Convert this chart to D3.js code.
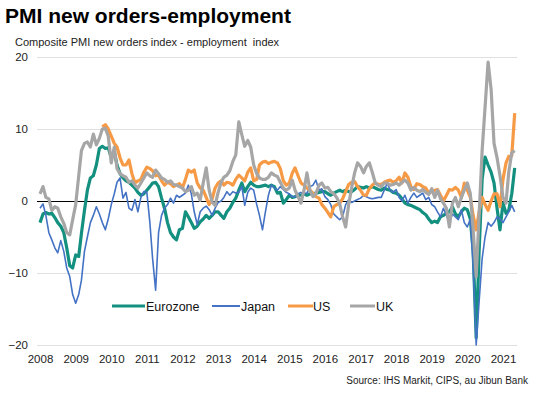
<!DOCTYPE html>
<html><head><meta charset="utf-8">
<script src="https://cdn.jsdelivr.net/npm/d3@7"></script>
<style>
html,body{margin:0;padding:0;background:#fff;}
svg{display:block;font-family:"Liberation Sans",Arial,sans-serif;}
</style></head>
<body><svg id="c" width="541" height="398"></svg>
<script>
// ---- data (monthly, from Jan 2008) ----
const startEuro = "2008-01", startJapan = "2008-01", startUK = "2008-01", startUS = "2009-10";
const eurozone = [
-3.0,-1.8,-1.6,-1.8,-1.7,-2.3,-3.0,-3.5,-4.4,-6.5,
-9.0,-9.3,-7.5,-7.7,-4.5,-1.3,1.5,3.2,3.5,5.0,
7.3,7.6,7.3,7.4,6.0,6.8,5.0,3.8,3.2,2.8,
2.6,2.2,1.8,1.2,0.8,1.0,1.5,2.0,2.5,2.6,
2.0,0.4,-1.0,-3.0,-4.4,-5.0,-5.4,-4.0,-3.8,-1.5,
-2.2,-3.0,-3.8,-3.5,-2.9,-2.5,-2.0,-2.4,-2.0,-1.5,
-1.5,-2.0,-2.4,-1.5,-1.0,-0.2,0.4,1.5,2.5,1.3,
2.0,2.6,2.2,2.0,2.0,2.1,2.2,2.0,2.2,2.0,
1.1,1.2,-0.3,0.2,0.8,0.5,0.6,0.8,0.8,1.0,
0.8,1.0,1.0,1.1,1.2,1.3,1.3,1.0,0.8,1.1,
1.3,1.5,1.3,1.5,1.3,1.3,1.6,2.0,1.9,1.8,
2.0,1.8,2.0,1.8,1.6,1.5,1.8,1.6,1.5,1.2,
1.1,0.8,0.3,-0.3,-0.5,-0.6,-0.8,-1.0,-1.2,-1.6,
-1.9,-2.5,-3.0,-2.8,-3.0,-2.2,-2.0,-1.7,-1.5,-0.8,
-1.8,-2.2,-1.5,-1.0,-1.2,-2.5,-7.0,-19.0,-7.0,3.0,
6.1,5.0,4.0,2.5,-1.0,-4.0,-0.3,-1.7,-1.3,1.0,4.6];
const japan = [
-1.0,-0.4,-2.0,-4.4,-5.4,-6.5,-7.2,-5.5,-7.0,-9.3,
-10.5,-13.0,-14.2,-13.0,-11.0,-7.0,-5.0,-3.0,-2.0,-0.8,
-1.8,-3.0,-4.0,-2.5,-0.5,1.0,2.6,3.2,0.4,1.2,
-1.0,-1.3,0.2,-1.5,0.5,1.3,1.2,-3.0,-8.0,-12.4,
-4.4,-2.0,-1.0,-0.5,0.4,-0.3,0.8,0.5,0.8,1.1,
2.2,1.0,-1.5,-3.3,-1.5,-1.0,-0.7,-1.2,-2.0,-1.0,
-0.2,0.0,0.5,1.3,0.8,1.3,1.1,1.2,2.0,-0.6,
1.2,1.8,1.5,-0.5,-2.0,-4.0,-1.5,0.8,2.2,1.8,
1.5,2.0,1.6,1.2,1.0,0.6,0.6,1.0,1.2,1.0,
1.1,2.0,2.2,2.9,1.5,1.7,0.6,0.2,-0.5,-1.8,
-2.2,-2.6,-2.2,-0.5,0.2,-0.2,0.0,0.2,0.4,0.8,
0.6,0.4,0.3,0.4,0.5,0.5,1.5,2.5,1.5,1.2,
1.6,0.5,0.0,0.8,-0.3,0.5,1.1,0.5,0.8,1.1,
0.2,0.5,-0.5,-0.8,-1.5,-2.2,-1.0,-2.0,-3.0,-1.8,
-2.2,-2.6,-1.2,-3.0,-3.6,-2.5,-9.0,-20.0,-14.0,-8.0,
-5.0,-3.0,-3.5,-3.0,-2.2,-2.5,-3.0,-2.2,-1.5,-0.6,-1.5];
const us = [
10.3,10.6,10.0,9.0,8.0,7.5,6.0,5.0,5.0,
5.7,3.8,2.5,2.8,3.0,4.0,4.7,4.5,4.2,3.5,
3.6,2.8,2.2,2.6,2.4,2.0,2.2,2.4,1.8,3.0,
4.3,4.0,4.3,2.5,1.8,1.5,0.5,-0.5,0.3,1.8,
2.5,2.8,2.2,2.6,2.5,2.2,3.0,3.6,3.2,2.8,
4.0,4.6,2.8,3.0,5.0,5.4,5.5,5.2,5.4,5.5,
5.3,4.5,2.8,2.2,2.5,3.9,4.6,3.5,2.5,2.2,
1.8,1.5,1.1,0.6,0.4,-0.5,-1.0,-1.6,-2.2,-0.8,
-0.5,-0.3,0.3,1.3,2.3,2.6,2.7,2.0,1.5,0.8,
0.8,1.7,2.2,2.5,2.3,2.3,2.6,2.8,2.9,2.6,
2.8,3.3,2.5,3.9,3.3,2.0,1.6,2.4,2.3,2.0,
1.8,1.1,1.3,1.5,1.6,0.8,0.0,0.8,1.6,1.5,
1.9,1.5,0.5,2.5,1.5,0.5,-2.0,-4.0,-1.5,0.5,
-0.5,-1.3,0.0,1.0,1.0,-0.8,3.0,5.3,6.2,6.3,12.2];
const uk = [
1.0,2.0,0.5,0.3,-1.3,-0.8,-1.0,-2.2,-3.1,-4.4,
-4.7,-2.6,-0.5,3.5,7.0,8.0,8.2,7.5,9.3,7.8,
8.7,10.0,10.1,9.0,5.3,7.5,4.5,3.8,3.5,3.3,
2.6,2.8,2.2,1.8,2.5,3.2,3.9,3.5,3.3,4.3,
3.8,3.2,3.0,2.6,2.8,2.3,2.2,2.0,1.8,1.3,
1.5,2.0,0.8,1.1,0.1,2.5,4.6,1.5,-0.2,-0.6,
1.2,2.6,3.3,3.6,4.2,5.5,6.4,11.0,9.2,7.6,
8.4,7.5,5.0,3.8,3.2,3.0,3.0,3.3,3.9,3.6,
3.4,2.6,1.8,1.5,1.8,2.9,1.5,0.6,-0.3,1.5,
3.9,1.5,0.6,1.0,2.2,2.5,1.8,1.9,1.3,1.0,
0.5,-0.4,-2.2,-3.6,-0.5,1.8,3.9,5.3,4.8,3.9,
4.8,5.3,4.0,2.5,2.2,2.0,2.5,2.5,2.2,2.3,
2.5,2.2,2.6,2.9,2.5,1.5,1.9,1.5,1.3,1.6,
1.2,0.9,1.7,0.5,1.5,0.3,-0.3,-1.0,-3.6,-0.3,
0.5,-0.8,0.5,1.5,2.5,1.0,-4.0,-10.5,-2.0,7.0,
13.0,19.3,15.5,8.0,6.0,3.5,0.5,-0.3,4.0,6.7,7.0];
const seriesNames = ["Eurozone","Japan","US","UK"];
const yTicks = [20,10,0,-10,-20];
const xTickYears = [2008,2009,2010,2011,2012,2013,2014,2015,2016,2017,2018,2019,2020,2021];
const titleText = "PMI new orders-employment";
const subtitleText = "Composite PMI new orders index - employment\u00a0 index";
const sourceText = "Source: IHS Markit, CIPS, au Jibun Bank";

// ---- build ----
const parseM = d3.timeParse("%Y-%m");
function toPoints(start, vals){
  const s = parseM(start);
  return vals.map((v,i)=>({date:d3.timeMonth.offset(s,i), value:v}));
}
const series = [
  {name:"Eurozone", color:"#13907f", width:3.2, pts:toPoints(startEuro, eurozone)},
  {name:"Japan", color:"#4472c4", width:1.6, pts:toPoints(startJapan, japan)},
  {name:"US", color:"#f79a45", width:3.2, pts:toPoints(startUS, us)},
  {name:"UK", color:"#a6a6a6", width:3.2, pts:toPoints(startUK, uk)}
];

const svg = d3.select("#c");
const x = d3.scaleTime().domain([new Date(2008,0,1), new Date(2021,0,1)]).range([40, 503]);
const y = d3.scaleLinear().domain([-20,20]).range([345, 57]);
const plotL = 37, plotR = 517;

// title
svg.append("text").attr("x",5).attr("y",23).attr("font-size",21).attr("font-weight","bold")
  .attr("fill","#000").text(titleText);
svg.append("text").attr("x",15).attr("y",46).attr("font-size",11).attr("fill","#222").text(subtitleText);

// grid
const yAxis = d3.axisLeft(y).tickValues(yTicks).tickSize(-(plotR-plotL)).tickPadding(9).tickFormat(d3.format("d"));
const gy = svg.append("g").attr("transform",`translate(${plotL},0)`).call(yAxis);
gy.select(".domain").remove();
gy.selectAll(".tick line").attr("stroke",d=>d===0?"#000":"#e0e0e0").attr("stroke-width",d=>d===0?1.2:1);
gy.selectAll(".tick text").attr("font-size",11.5).attr("fill","#222").attr("font-family","Liberation Sans, Arial, sans-serif");

// x axis labels
const xAxis = d3.axisBottom(x).tickValues(xTickYears.map(yr=>new Date(yr,0,1))).tickSize(0).tickPadding(10).tickFormat(d3.timeFormat("%Y"));
const gx = svg.append("g").attr("transform",`translate(0,${y(-20)})`).call(xAxis);
gx.select(".domain").remove();
gx.selectAll(".tick text").attr("font-size",11.5).attr("fill","#222").attr("font-family","Liberation Sans, Arial, sans-serif");

// lines
const line = d3.line().x(d=>x(d.date)).y(d=>y(d.value)).curve(d3.curveLinear);
series.forEach(s=>{
  svg.append("path").datum(s.pts).attr("fill","none").attr("stroke",s.color)
    .attr("stroke-width",s.width).attr("stroke-linejoin","round").attr("d",line);
});

// legend
const legendPos = [{lx:112, tx:146},{lx:212, tx:241},{lx:288, tx:313},{lx:350, tx:376}];
const legendW = [33,28,25,25];
const ly = 306;
series.forEach((s,i)=>{
  const p = legendPos[i];
  svg.append("line").attr("x1",p.lx).attr("x2",p.lx+legendW[i]).attr("y1",ly).attr("y2",ly)
    .attr("stroke",s.color).attr("stroke-width",s.name==="Japan"?2:3);
  svg.append("text").attr("x",p.tx).attr("y",ly+4.5).attr("font-size",12.5).attr("fill","#111").text(s.name);
});

// source
svg.append("text").attr("x",528).attr("y",384).attr("text-anchor","end").attr("font-size",10).attr("fill","#222").text(sourceText);
</script></body></html>
